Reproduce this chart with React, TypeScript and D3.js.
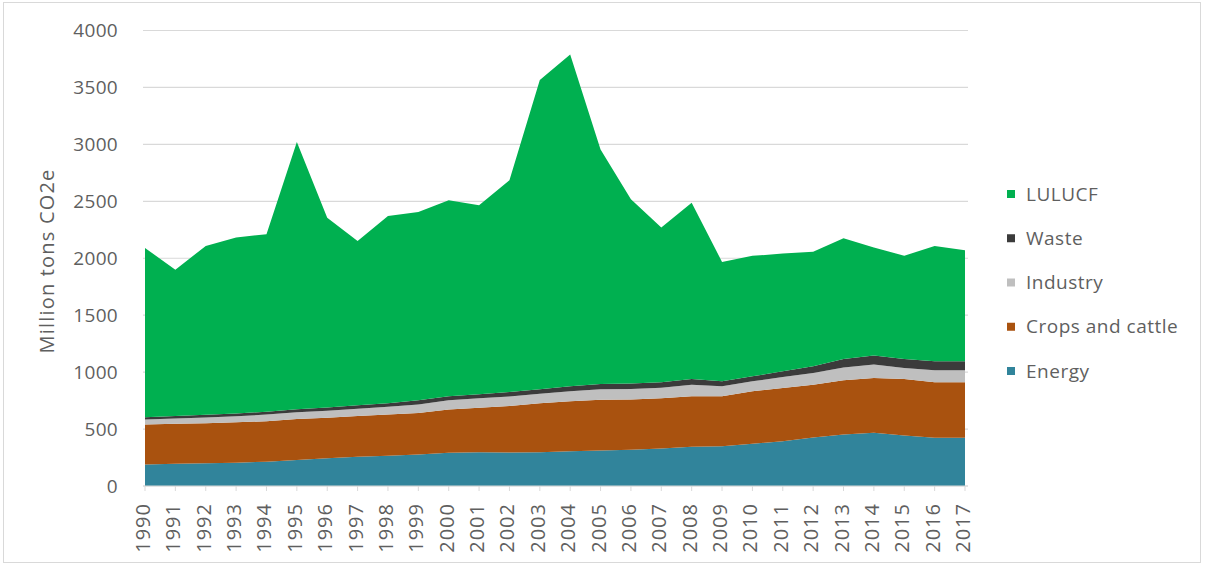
import React from "react";
import * as d3 from "d3";

// Annual emissions by sector, million tons CO2e
const years: number[] = d3.range(1990, 2018);

const energy: number[] = [189, 195, 200, 205, 213, 228, 243, 256, 265, 276, 291, 296, 294, 296, 305, 312, 318, 330, 344, 349, 370, 393, 425, 452, 467, 443, 423, 423];
const crops: number[] = [351, 352, 352, 354, 356, 360, 356, 358, 362, 366, 380, 392, 408, 430, 439, 445, 442, 440, 444, 439, 462, 468, 465, 476, 482, 497, 488, 488];
const industry: number[] = [43, 46, 50, 54, 58, 60, 62, 65, 68, 73, 82, 82, 85, 84, 88, 92, 92, 92, 102, 87, 87, 97, 103, 113, 117, 97, 105, 105];
const waste: number[] = [21, 22, 23, 24, 26, 27, 29, 30, 32, 38, 35, 36, 38, 40, 43, 46, 48, 48, 50, 44, 44, 49, 58, 75, 79, 79, 79, 79];
const lulucf: number[] = [1486, 1285, 1483, 1545, 1558, 2345, 1665, 1443, 1644, 1653, 1721, 1659, 1859, 2715, 2915, 2061, 1618, 1359, 1548, 1049, 1058, 1034, 1005, 1059, 949, 905, 1013, 975];

const yTicks: number[] = [0, 500, 1000, 1500, 2000, 2500, 3000, 3500, 4000];

const seriesKeys = ["Energy", "Crops and cattle", "Industry", "Waste", "LULUCF"];
const seriesValues: Record<string, number[]> = {
  Energy: energy,
  "Crops and cattle": crops,
  Industry: industry,
  Waste: waste,
  LULUCF: lulucf,
};
const colors: Record<string, string> = {
  Energy: "#31849B",
  "Crops and cattle": "#A9520F",
  Industry: "#BFBFBF",
  Waste: "#3B3B3B",
  LULUCF: "#00B050",
};

const W = 1205;
const H = 565;
const FONT = "'Open Sans', sans-serif";
const TEXT = "#5f5f5f";

export default function App() {
  const x = d3.scaleLinear().domain([1990, 2017]).range([145, 965]);
  const y = d3.scaleLinear().domain([0, 4000]).range([486, 30.5]);

  const rows = years.map((yr, i) => {
    const r: Record<string, number> = { year: yr };
    seriesKeys.forEach((k) => (r[k] = seriesValues[k][i]));
    return r;
  });
  const stacked = d3.stack<Record<string, number>>().keys(seriesKeys)(rows);
  const area = d3
    .area<d3.SeriesPoint<Record<string, number>>>()
    .x((d) => x(d.data.year))
    .y0((d) => y(d[0]))
    .y1((d) => y(d[1]));

  const legendOrder = [...seriesKeys].reverse();

  return (
    <svg
      width={W}
      height={H}
      style={{ position: "absolute", left: 0, top: 0, background: "#fff" }}
      fontFamily={FONT}
    >
      <rect x={3.5} y={2.5} width={1197} height={560} fill="#fff" stroke="#D9D9D9" />

      {/* gridlines */}
      {yTicks.map((t) => (
        <line key={t} x1={143} x2={968} y1={y(t)} y2={y(t)} stroke="#D9D9D9" strokeWidth={1.2} />
      ))}

      {/* stacked areas */}
      {stacked.map((s) => (
        <path key={s.key} d={area(s) || ""} fill={colors[s.key]} />
      ))}

      {/* x axis line and ticks */}
      <line x1={143} x2={968} y1={y(0)} y2={y(0)} stroke="#D9D9D9" strokeWidth={1.2} />
      {years.map((yr) => (
        <line key={yr} x1={x(yr)} x2={x(yr)} y1={y(0)} y2={y(0) + 5} stroke="#D9D9D9" />
      ))}

      {/* y tick labels */}
      {yTicks.map((t) => (
        <text key={t} x={118} y={y(t)} dy="0.35em" textAnchor="end" fontSize={19} letterSpacing={0.3} fill={TEXT}>
          {t}
        </text>
      ))}

      {/* x tick labels */}
      {years.map((yr) => (
        <text
          key={yr}
          transform={`translate(${x(yr) - 2},${y(0) + 17}) rotate(-90)`}
          textAnchor="end"
          dy="0.35em"
          fontSize={20}
          letterSpacing={1}
          fill={TEXT}
        >
          {yr}
        </text>
      ))}

      {/* y axis title */}
      <text
        transform={`translate(47,261) rotate(-90)`}
        textAnchor="middle"
        dy="0.35em"
        fontSize={20}
        letterSpacing={1.2}
        fill={TEXT}
      >
        Million tons CO2e
      </text>

      {/* legend */}
      {legendOrder.map((k, i) => {
        const cy = 194 + i * 44.25;
        return (
          <g key={k}>
            <rect x={1007} y={cy - 4} width={8} height={8} fill={colors[k]} />
            <text x={1026} y={cy} dy="0.35em" fontSize={19} letterSpacing={0.5} fill={TEXT}>
              {k}
            </text>
          </g>
        );
      })}
    </svg>
  );
}
